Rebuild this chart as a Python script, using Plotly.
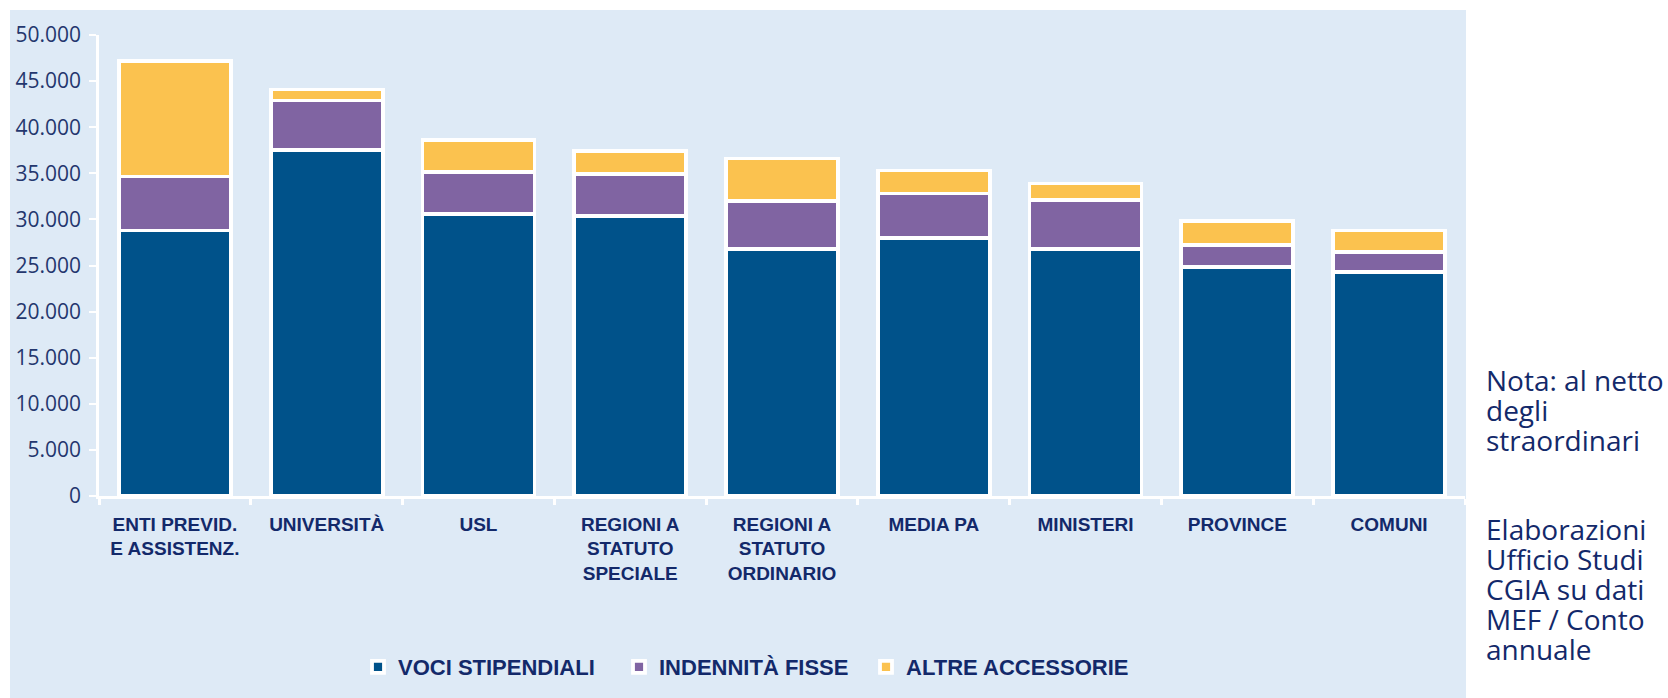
import plotly.graph_objects as go

categories = ["ENTI PREVID.<br>E ASSISTENZ.", "UNIVERSITÀ", "USL",
              "REGIONI A<br>STATUTO<br>SPECIALE", "REGIONI A<br>STATUTO<br>ORDINARIO",
              "MEDIA PA", "MINISTERI", "PROVINCE", "COMUNI"]
voci_stipendiali = [28800, 37500, 30600, 30400, 26800, 28000, 26800, 24800, 24300]
indennita_fisse = [5850, 5400, 4500, 4500, 5200, 4800, 5300, 2400, 2200]
altre_accessorie = [12550, 1200, 3500, 2500, 4600, 2500, 1800, 2600, 2300]
series_names = ["VOCI STIPENDIALI", "INDENNITÀ FISSE", "ALTRE ACCESSORIE"]
y_ticks = [0, 5000, 10000, 15000, 20000, 25000, 30000, 35000, 40000, 45000, 50000]
note_lines = ["Nota: al netto", "degli", "straordinari"]
source_lines = ["Elaborazioni", "Ufficio Studi", "CGIA su dati", "MEF / Conto", "annuale"]

colors = ["#00528A", "#8064A2", "#FBC24F"]
navy = "#13296A"
panel = "#DEEAF6"

W, H = 1668, 698
L, R, T, B = 99, 1465, 35, 497

def px_to_paper_x(px):
    return (px - L) / (R - L)

def px_to_paper_y(py):
    return (B - py) / (B - T)

legend_ids = ["legend", "legend2", "legend3"]
legend_marker_px = [380, 641, 888]

fig = go.Figure()
for name, vals, col, lid in zip(series_names, [voci_stipendiali, indennita_fisse, altre_accessorie],
                                colors, legend_ids):
    fig.add_trace(go.Bar(x=categories, y=vals, name=name, legend=lid,
                         marker=dict(color=col, line=dict(color="white", width=3.8))))

fig.add_shape(type="rect", xref="paper", yref="paper",
              x0=px_to_paper_x(10), x1=px_to_paper_x(1466),
              y0=px_to_paper_y(700), y1=px_to_paper_y(10),
              fillcolor=panel, line=dict(width=0), layer="below")

def block(lines):
    return "<br>".join('<span style="font-size:28px">%s</span>' % t for t in lines)

annos = [
    dict(text=block(note_lines), x=px_to_paper_x(1484), y=px_to_paper_y(411),
         xref="paper", yref="paper", xanchor="left", yanchor="middle", align="left",
         showarrow=False, font=dict(family="Open Sans", size=23, color=navy)),
    dict(text=block(source_lines), x=px_to_paper_x(1484), y=px_to_paper_y(590),
         xref="paper", yref="paper", xanchor="left", yanchor="middle", align="left",
         showarrow=False, font=dict(family="Open Sans", size=23, color=navy)),
]

legend_font = dict(family="Liberation Sans", size=22, color=navy, weight="bold")
legend_layout = {}
for lid, mx in zip(legend_ids, legend_marker_px):
    legend_layout[lid] = dict(orientation="h", x=px_to_paper_x(mx - 22), xanchor="left",
                              y=px_to_paper_y(667), yanchor="middle",
                              font=legend_font, bgcolor="rgba(0,0,0,0)")

fig.update_layout(
    width=W, height=H,
    margin=dict(l=L, r=W - R, t=T, b=H - B, pad=0),
    paper_bgcolor="white", plot_bgcolor=panel,
    barmode="stack", bargap=0.262,
    separators=",.",
    showlegend=True,
    annotations=annos,
    xaxis=dict(showgrid=False, showline=True, linecolor="white", linewidth=2.5,
               ticks="outside", tickson="boundaries", ticklen=6, tickcolor="white", tickwidth=2.5,
               tickfont=dict(family="Liberation Sans", size=19, color=navy, weight="bold"),
               ticklabelstandoff=9),
    yaxis=dict(range=[0, 50000], tickvals=y_ticks, tickformat=",d", showgrid=False,
               showline=True, linecolor="white", linewidth=2.5,
               ticks="outside", ticklen=7, tickcolor="white", tickwidth=2,
               tickfont=dict(family="Open Sans", size=21, color="#24376E"),
               ticklabelstandoff=4, zeroline=False),
    **legend_layout,
)

fig.write_html("out.html", config={"displayModeBar": False},
               post_script="document.body.style.margin='0';")
